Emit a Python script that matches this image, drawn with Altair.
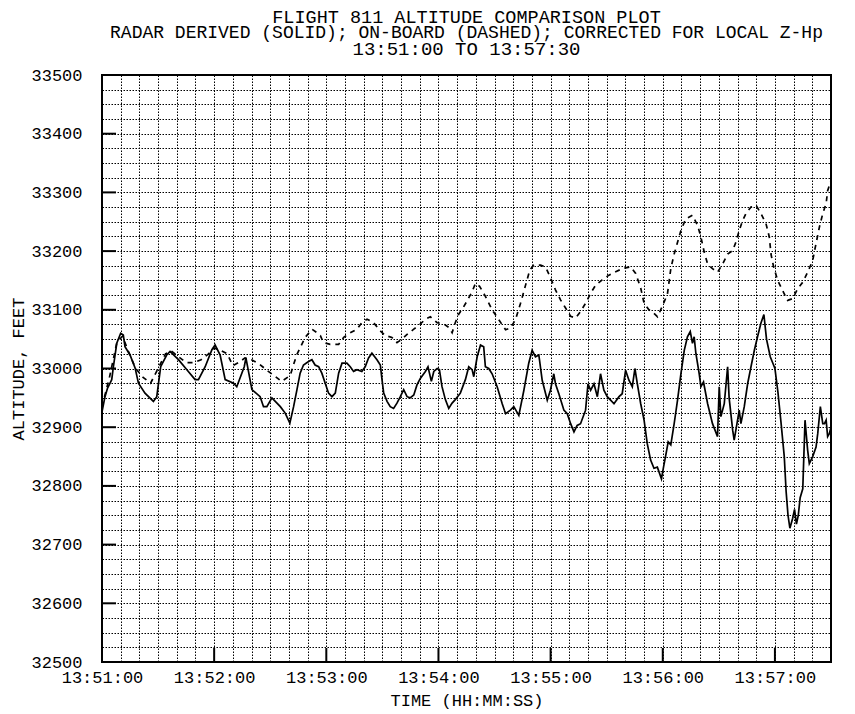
import altair as alt
import pandas as pd

TITLE_LINES = [
    "FLIGHT 811 ALTITUDE COMPARISON PLOT",
    "RADAR DERIVED (SOLID); ON-BOARD (DASHED); CORRECTED FOR LOCAL Z-Hp",
    "13:51:00 TO 13:57:30",
]
X_TITLE = "TIME (HH:MM:SS)"
Y_TITLE = "ALTITUDE, FEET"

# seconds after 13:51:00
RADAR_T = [0, 1.6, 2.9, 5.2, 6.1, 7.9, 10, 11.4, 12.3, 15, 17.7, 19.5, 23, 27.5, 29.3, 31.4, 34.6, 36.4,
           40.9, 45.4, 49.8, 51.6, 55.2, 58.8, 60.5, 63.2, 65.9, 70.4, 72.1, 76.1, 77, 80.2, 84.6, 86.4,
           88.2, 90.9, 95.4, 98, 100.5, 102.5, 104.3, 106, 107.8, 110.5, 112.3, 114, 115.9, 117.6, 121.2,
           123, 124.8, 126.6, 128.4, 131, 132.8, 134.6, 136.4, 139, 140.8, 142.6, 144.4, 147.1, 148.9,
           149.8, 150.7, 152.5, 154.2, 156, 157.8, 159.6, 161.4, 163.2, 164.9, 166.8, 168.5, 170.3, 173,
           174.4, 176.2, 177.5, 179.3, 180.5, 181.9, 183.7, 185.5, 187.3, 189, 191.7, 194.4, 196.2, 198,
           198.9, 200.7, 202.5, 204.2, 205.1, 206.9, 208.7, 211.4, 214.1, 215.9, 218.5, 220.3, 223, 225.7,
           228.3, 230.1, 231.9, 233.7, 235.5, 238.2, 239.9, 241.7, 242.6, 244.4, 247.1, 248.9, 250.7,
           252.5, 254.2, 256, 258.7, 260, 261.4, 263.2, 265, 266.7, 268.5, 270.3, 272.1, 273.9, 276.6,
           278.3, 280.1, 281.9, 283.7, 285.1, 286.4, 288.2, 290, 291.7, 293.5, 295.3, 297.1, 299.3, 300.4,
           301.6, 302.9, 304.3, 306.1, 307.9, 309.7, 311.5, 313.2, 314.7, 315.9, 316.8, 317.7, 319.5,
           320.4, 321.8, 324, 326.6, 329.3, 330.2, 331.1, 332.9, 334.7, 335.5, 337.4, 338.2, 339.7, 340.9,
           341.8, 343.6, 345.4, 347.2, 349, 350.7, 352.5, 354.1, 355.5, 357.5, 358.9, 360, 361.6, 363.2,
           365, 366, 367, 368, 369.5, 370.5, 371.5, 372.5, 373.5, 374.9, 376.1, 377.5, 378.4, 380.2, 382,
           382.9, 384.3, 385.6, 386.5, 387.4, 388.2, 389.1, 390]
RADAR_ALT = [32926, 32952, 32966, 32981, 33003, 33043, 33060, 33057, 33037, 33023, 33001, 32975, 32958,
             32944, 32952, 33003, 33023, 33029, 33015, 32998, 32981, 32981, 33003, 33032, 33040, 33023,
             32981, 32975, 32969, 33003, 33018, 32964, 32952, 32935, 32935, 32950, 32935, 32924, 32907,
             32935, 32964, 32992, 33006, 33012, 33015, 33006, 33003, 32992, 32958, 32952, 32958, 32992,
             33009, 33009, 33003, 32995, 32998, 32995, 33003, 33018, 33026, 33015, 33006, 32981, 32958,
             32944, 32935, 32932, 32941, 32952, 32964, 32952, 32950, 32955, 32972, 32983, 32995, 33003,
             32978, 32995, 33000, 32998, 32969, 32947, 32932, 32941, 32947, 32958, 32981, 33003, 32998,
             32986, 33020, 33040, 33037, 33003, 33000, 32991, 32969, 32940, 32923, 32929, 32935, 32920,
             32963, 33009, 33031, 33020, 33023, 32980, 32946, 32963, 32991, 32974, 32957, 32929, 32923,
             32906, 32892, 32903, 32906, 32929, 32974, 32963, 32974, 32952, 32991, 32963, 32952, 32946,
             32940, 32952, 32957, 32997, 32980, 32969, 33000, 32974, 32940, 32912, 32872, 32844, 32830,
             32832, 32812, 32832, 32852, 32875, 32870, 32906, 32946, 32991, 33031, 33054, 33063, 33043,
             33054, 33026, 32991, 32969, 32977, 32940, 32906, 32884, 32969, 32918, 32940, 33003, 32950,
             32895, 32878, 32906, 32929, 32906, 32935, 32974, 33003, 33031, 33054, 33077, 33092, 33050,
             33020, 33009, 33000, 32960, 32910, 32850, 32790, 32750, 32728, 32745, 32760, 32735, 32750,
             32780, 32795, 32912, 32861, 32838, 32850, 32866, 32889, 32935, 32906, 32906, 32912, 32884,
             32889, 32900]

ONBOARD_T = [0, 4, 8, 11, 14, 18, 22, 26, 30, 34, 37, 41, 45, 49, 53, 57, 60, 64, 67, 70, 73, 76.5, 80, 84,
             89, 92.5, 96, 100.7, 102.5, 104.3, 106.9, 108.7, 112.3, 115, 116.8, 118.5, 122.1, 126.6,
             129.3, 132.8, 136.4, 139, 141.8, 145.3, 148.9, 151.6, 155.1, 157.8, 160.5, 163.2, 166.8,
             169.4, 173, 175.7, 179.3, 182.8, 185.5, 187.3, 189, 190.9, 192.7, 195.3, 198, 199.8, 202,
             205.1, 208.7, 212.3, 215.9, 218.5, 221.2, 223.9, 226.6, 228.9, 231, 234.6, 237.3, 240, 242.6,
             245.3, 248, 250.7, 253.4, 256, 258.7, 261.4, 264.1, 267.6, 271.2, 274.8, 279.2, 282.8, 285.5,
             288.2, 290, 292.6, 295.3, 297.2, 299.9, 302.5, 304.3, 306.1, 307.9, 309.7, 312.3, 315.9,
             318.6, 320.4, 322.2, 324, 326.6, 329.3, 332, 334.7, 337.4, 339.1, 340.9, 342.7, 344.5, 347.2,
             349.9, 352.5, 355.2, 357, 357.9, 359.3, 361.5, 364.1, 366.8, 369.5, 372.2, 374.9, 377.5,
             380.2, 382, 383.8, 385.6, 387.4, 388.2, 390]
ONBOARD_ALT = [32935, 32985, 33045, 33055, 33030, 33000, 32985, 32975, 33000, 33025, 33030, 33020, 33010,
               33010, 33015, 33025, 33035, 33030, 33025, 33005, 33010, 33018, 33015, 33008, 32995, 32987,
               32978, 32988, 33007, 33024, 33041, 33053, 33067, 33061, 33056, 33044, 33041, 33041, 33053,
               33061, 33067, 33078, 33084, 33078, 33064, 33056, 33053, 33044, 33050, 33058, 33067, 33073,
               33084, 33088, 33078, 33076, 33070, 33061, 33078, 33093, 33101, 33115, 33131, 33145, 33140,
               33123, 33100, 33083, 33066, 33069, 33083, 33111, 33142, 33168, 33176, 33176, 33173, 33154,
               33134, 33117, 33103, 33089, 33086, 33097, 33111, 33128, 33142, 33151, 33159, 33165, 33171,
               33173, 33162, 33137, 33111, 33100, 33094, 33088, 33107, 33127, 33170, 33195, 33215, 33235,
               33255, 33261, 33244, 33224, 33198, 33178, 33170, 33164, 33178, 33195, 33201, 33215, 33235,
               33252, 33264, 33275, 33278, 33264, 33247, 33224, 33195, 33173, 33150, 33133, 33116, 33119,
               33136, 33147, 33164, 33184, 33213, 33241, 33264, 33281, 33303, 33320]

X_GRID = list(range(0, 391, 10))
Y_GRID = list(range(32500, 33501, 25))
X_MAJOR = [60, 120, 180, 240, 300, 360]
Y_MAJOR = [32600, 32700, 32800, 32900, 33000, 33100, 33200, 33300, 33400]

FONT = "Liberation Mono"
W, H = 729, 587

xscale = alt.Scale(domain=[0, 390], nice=False, zero=False)
yscale = alt.Scale(domain=[32500, 33500], nice=False, zero=False)

GRID = dict(grid=True, gridDash=[1.5, 1.5], gridColor="black", gridWidth=1, gridOpacity=1)

xaxis = alt.Axis(
    values=X_GRID, **GRID,
    ticks=False, domain=False, labelOverlap=False, labelBound=False, labelFlush=False,
    labelExpr="datum.value % 60 == 0 ? '13:' + (51 + datum.value / 60) + ':00' : ''",
    labelFont=FONT, labelFontSize=17, labelColor="black", labelBaseline="alphabetic", labelPadding=20,
    title=X_TITLE, titleFont=FONT, titleFontSize=17, titleFontWeight="normal", titleColor="black",
    titleBaseline="alphabetic", titleX=W / 2, titleY=43,
)
yaxis = alt.Axis(
    values=Y_GRID, **GRID,
    ticks=False, domain=False, labelOverlap=False, labelBound=False, labelFlush=False,
    labelExpr="datum.value % 100 == 0 ? format(datum.value, 'd') : ''",
    labelFont=FONT, labelFontSize=17, labelColor="black", labelPadding=20,
    title=Y_TITLE, titleFont=FONT, titleFontSize=17, titleFontWeight="normal", titleColor="black",
    titleAngle=270, titleBaseline="middle", titleAlign="center", titleX=-84, titleY=H / 2,
)

radar = pd.DataFrame({"t": RADAR_T, "alt": RADAR_ALT})
onboard = pd.DataFrame({"t": ONBOARD_T, "alt": ONBOARD_ALT})

X = alt.X("t:Q", scale=xscale, axis=xaxis)
Y = alt.Y("alt:Q", scale=yscale, axis=yaxis)

solid = alt.Chart(radar).mark_line(color="black", strokeWidth=1.7).encode(x=X, y=Y)
dashed = alt.Chart(onboard).mark_line(color="black", strokeWidth=1.7, strokeDash=[5, 5]).encode(x=X, y=Y)

left_ticks = alt.Chart(pd.DataFrame({"alt": Y_MAJOR})).mark_rule(color="black", strokeWidth=2).encode(
    y=Y, x=alt.value(0), x2=alt.value(14))
bottom_ticks = alt.Chart(pd.DataFrame({"t": X_MAJOR})).mark_rule(color="black", strokeWidth=2).encode(
    x=X, y=alt.value(H), y2=alt.value(H - 14))

title_layers = []
for txt, ypos, fs in zip(TITLE_LINES, [-58, -42, -26], [18.5, 18, 19]):
    title_layers.append(
        alt.Chart(pd.DataFrame({"txt": [txt]})).mark_text(
            font=FONT, fontSize=fs, color="black", baseline="middle", align="center"
        ).encode(x=alt.value(W / 2), y=alt.value(ypos), text="txt:N")
    )

chart = alt.layer(solid, dashed, left_ticks, bottom_ticks, *title_layers).properties(
    width=W, height=H,
    autosize=alt.AutoSizeParams(type="none"),
    padding={"left": 94, "top": 67, "right": 15, "bottom": 50},
    background="white",
).configure_view(stroke="black", strokeWidth=2)

chart.save("out.html", embed_options={"renderer": "svg", "actions": False})
